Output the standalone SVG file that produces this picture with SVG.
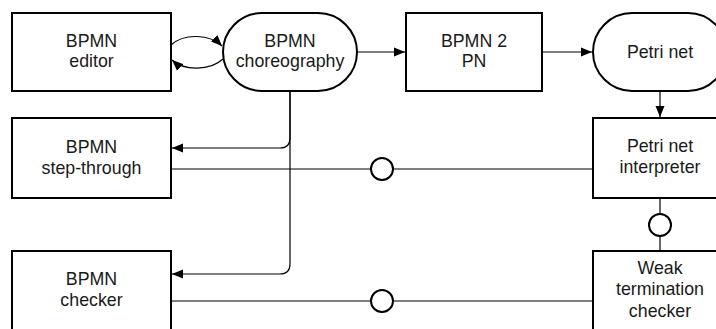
<svg xmlns="http://www.w3.org/2000/svg" width="716" height="329" viewBox="0 0 716 329">
<style>
.box{fill:#fff;stroke:#000;stroke-width:2}
.ln{fill:none;stroke:#000;stroke-width:1.2}
.sock{fill:#fff;stroke:#000;stroke-width:2}
text{font-family:"Liberation Sans",Arial,sans-serif;font-size:17.8px;fill:#1a1a1a;text-anchor:middle}
</style>
<defs>
<marker id="ah" markerUnits="userSpaceOnUse" markerWidth="12" markerHeight="10" refX="11" refY="5" orient="auto">
<path d="M0,0.5 L11,5 L0,9.5 Z" fill="#000"/>
</marker>
</defs>
<rect width="716" height="329" fill="#fff"/>
<g id="connectors">
<path class="ln" d="M171,45 C184,33 210,34 222,46" marker-end="url(#ah)"/>
<path class="ln" d="M223,59 C210,71 184,71 172,60" marker-end="url(#ah)"/>
<path class="ln" d="M357,52 H405" marker-end="url(#ah)"/>
<path class="ln" d="M542,52 H592" marker-end="url(#ah)"/>
<path class="ln" d="M660,91 V117" marker-end="url(#ah)"/>
<path class="ln" d="M290,91 V138 Q290,148 280,148 H172" marker-end="url(#ah)"/>
<path class="ln" d="M290,91 V264 Q290,274 280,274 H172" marker-end="url(#ah)"/>
<path class="ln" d="M171,169 H592"/>
<path class="ln" d="M171,301 H592"/>
<path class="ln" d="M660,198 V251"/>
<circle class="sock" cx="382" cy="169" r="11"/>
<circle class="sock" cx="382" cy="301" r="11"/>
<circle class="sock" cx="660" cy="225" r="11"/>
</g>
<g id="editor">
<rect class="box" x="12" y="13" width="159" height="78"/>
<text x="91.5" y="47">BPMN</text>
<text x="91.5" y="67">editor</text>
</g>
<g id="choreography">
<rect class="box" x="223" y="13" width="134" height="78" rx="39" ry="39"/>
<text x="290" y="47">BPMN</text>
<text x="290" y="67">choreography</text>
</g>
<g id="bpmn2pn">
<rect class="box" x="406" y="13" width="136" height="78"/>
<text x="474" y="47">BPMN 2</text>
<text x="474" y="67">PN</text>
</g>
<g id="petrinet">
<rect class="box" x="593" y="13" width="134" height="78" rx="39" ry="39"/>
<text x="660" y="58">Petri net</text>
</g>
<g id="stepthrough">
<rect class="box" x="12" y="118" width="159" height="80"/>
<text x="91.5" y="153">BPMN</text>
<text x="91.5" y="174">step-through</text>
</g>
<g id="interpreter">
<rect class="box" x="593" y="118" width="134" height="80"/>
<text x="660" y="152">Petri net</text>
<text x="660" y="173">interpreter</text>
</g>
<g id="checker">
<rect class="box" x="12" y="251" width="159" height="82"/>
<text x="91.5" y="285">BPMN</text>
<text x="91.5" y="306">checker</text>
</g>
<g id="weak">
<rect class="box" x="593" y="251" width="134" height="82"/>
<text x="660" y="274">Weak</text>
<text x="660" y="295">termination</text>
<text x="660" y="317">checker</text>
</g>
</svg>
